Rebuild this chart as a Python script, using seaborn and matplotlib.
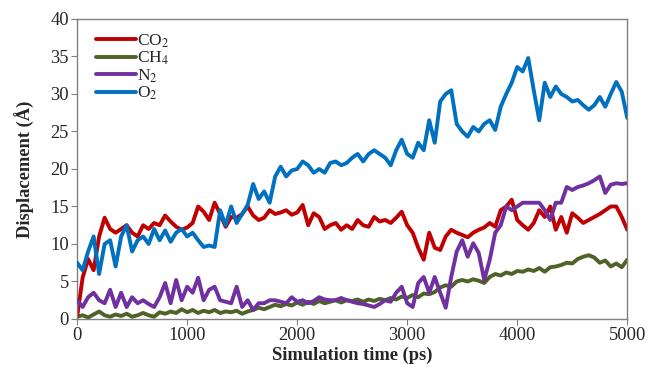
import numpy as np
import pandas as pd
import matplotlib
matplotlib.use('Agg')
import matplotlib.pyplot as plt
import seaborn as sns

# time axis (ps), one reading every 50 ps
time_ps = list(range(0, 5001, 50))

co2 = [0.3, 5.5, 8.0, 6.5, 11.0, 13.5, 12.0, 11.5, 12.0, 12.5,
       11.5, 11.0, 12.5, 12.0, 12.8, 12.5, 13.8, 13.0, 12.3, 11.9,
       12.2, 12.8, 15.0, 14.3, 13.2, 15.5, 14.0, 12.3, 13.6, 13.5,
       14.0, 15.0, 13.8, 13.2, 13.5, 14.5, 14.0, 14.2, 14.5, 13.9,
       14.2, 15.2, 12.5, 14.1, 13.6, 12.0, 12.5, 12.8, 11.9, 12.5,
       12.0, 13.2, 12.5, 12.3, 13.6, 13.0, 13.2, 12.8, 13.5, 14.3,
       12.5, 11.5, 9.5, 7.9, 11.5, 9.5, 9.2, 11.0, 11.9, 11.5,
       11.2, 10.9, 11.5, 11.9, 12.2, 12.8, 12.3, 14.5, 15.0, 15.9,
       13.2, 12.5, 11.9, 12.8, 14.5, 13.6, 15.0, 11.9, 13.6, 11.5,
       14.1, 13.5, 12.8, 13.2, 13.6, 14.0, 14.5, 15.0, 15.0, 13.6,
       11.9]

ch4 = [0.3, 0.5, 0.2, 0.6, 1.0, 0.5, 0.3, 0.6, 0.4, 0.7,
       0.3, 0.5, 0.8, 0.5, 0.3, 0.9, 0.7, 1.0, 0.8, 1.3,
       0.9, 1.2, 0.8, 1.1, 0.9, 1.2, 0.8, 1.0, 0.9, 1.1,
       0.7, 1.0, 1.2, 1.5, 1.3, 1.6, 1.9, 1.7, 2.0, 1.8,
       2.2, 1.9, 2.3, 2.0, 2.4, 2.1, 2.3, 2.5, 2.2, 2.5,
       2.4, 2.6, 2.3, 2.6, 2.4, 2.7, 2.5, 2.8, 2.6, 3.0,
       2.8, 3.2, 2.9, 3.4, 3.3, 3.6, 4.2, 4.5, 4.3, 5.0,
       5.2, 5.0, 5.3, 5.1, 4.8, 5.6, 6.0, 5.8, 6.2, 6.0,
       6.4, 6.3, 6.6, 6.4, 6.8, 6.3, 6.9, 7.0, 7.2, 7.5,
       7.4, 8.0, 8.3, 8.5, 8.2, 7.5, 7.8, 7.0, 7.4, 6.9,
       7.9]

n2 = [2.5, 1.6, 2.9, 3.5, 2.5, 2.1, 3.9, 1.6, 3.5, 1.6,
      2.9, 2.1, 2.5, 2.0, 1.6, 2.9, 4.8, 2.1, 5.2, 2.5,
      4.3, 3.5, 5.5, 2.5, 3.9, 4.3, 2.5, 2.3, 2.1, 4.3,
      1.6, 2.5, 1.2, 2.1, 2.1, 2.5, 2.5, 2.3, 2.1, 2.9,
      2.3, 2.5, 2.1, 2.4, 2.9, 2.6, 2.5, 2.5, 2.8, 2.5,
      2.3, 2.1, 2.0, 1.8, 1.6, 2.0, 2.5, 2.3, 3.5, 4.3,
      2.1, 1.6, 4.8, 5.6, 3.5, 5.6, 3.5, 1.5, 5.6, 9.0,
      10.5, 8.3, 10.1, 8.8, 5.2, 7.9, 11.5, 12.5, 15.0, 14.5,
      15.0, 15.5, 15.5, 15.5, 15.5, 14.5, 13.2, 15.5, 15.5, 17.6,
      17.2, 17.6, 17.8, 18.1, 18.5, 19.0, 16.8, 17.9, 18.1, 18.0,
      18.1]

o2 = [7.5, 6.5, 9.0, 11.0, 6.0, 10.0, 10.5, 7.0, 11.0, 12.5,
      9.0, 10.5, 11.0, 10.0, 12.0, 10.5, 11.8, 10.3, 11.5, 12.0,
      11.0, 11.5, 10.5, 9.6, 9.8, 9.6, 14.5, 12.5, 15.0, 12.8,
      14.0, 15.2, 18.0, 16.0, 17.0, 15.5, 19.0, 20.3, 19.0, 19.8,
      20.0, 21.0, 20.5, 19.5, 20.0, 19.5, 20.8, 21.0, 20.5, 20.8,
      21.5, 22.0, 21.0, 22.0, 22.5, 22.0, 21.5, 20.5, 22.5, 23.9,
      22.0, 21.5, 23.5, 22.5, 26.5, 23.5, 29.0, 30.0, 30.5, 26.0,
      25.0, 24.3, 25.6, 25.0, 26.0, 26.5, 25.2, 28.3, 30.0, 31.5,
      33.6, 33.0, 34.8, 30.5, 26.5, 31.5, 29.6, 31.0, 30.0, 29.6,
      29.0, 29.2, 28.5, 27.9, 28.5, 29.6, 28.3, 30.0, 31.6, 30.3,
      26.8]

gases = ['CO$_2$', 'CH$_4$', 'N$_2$', 'O$_2$']
colors = ['#C00000', '#4F6228', '#7030A0', '#0070C0']

df = pd.concat([pd.DataFrame({'time': time_ps, 'disp': v, 'gas': g})
                for g, v in zip(gases, [co2, ch4, n2, o2])], ignore_index=True)

sns.set_style('white')
plt.rcParams['font.family'] = ['Liberation Serif', 'DejaVu Serif']
plt.rcParams['mathtext.fontset'] = 'stix'

fig = plt.figure(figsize=(6.48, 3.72), dpi=100)
ax = fig.add_axes([0.119, 0.1425, 0.849, 0.8065])
sns.lineplot(data=df, x='time', y='disp', hue='gas', hue_order=gases,
             palette=colors, linewidth=2.8, ax=ax)

# draw order seen in picture: green under purple, red under blue
for line, z in zip(ax.get_lines(), [2, 1, 3, 4]):
    line.set_zorder(z)

ax.set_xlim(0, 5000)
ax.set_ylim(0, 40)
ax.set_xticks(range(0, 5001, 1000))
ax.set_yticks(range(0, 41, 5))
ax.set_xlabel('Simulation time (ps)', fontweight='bold', fontsize=13.3, labelpad=2)
ax.set_ylabel('Displacement (Å)', fontweight='bold', fontsize=13.3, labelpad=11)

for sp in ax.spines.values():
    sp.set_color('#808080')
    sp.set_linewidth(1.0)
ax.tick_params(axis='both', which='major', direction='out', length=4,
               color='#808080', labelsize=13.3, left=True, bottom=True, pad=2)

leg = ax.legend(loc='upper left', bbox_to_anchor=(0.035, 0.955), frameon=False,
                handlelength=2.3, handletextpad=0.05, labelspacing=0.0,
                borderaxespad=0, borderpad=0, fontsize=12.5)
for h in leg.get_lines():
    h.set_linewidth(2.8)

fig.savefig('out.png', dpi=100)
